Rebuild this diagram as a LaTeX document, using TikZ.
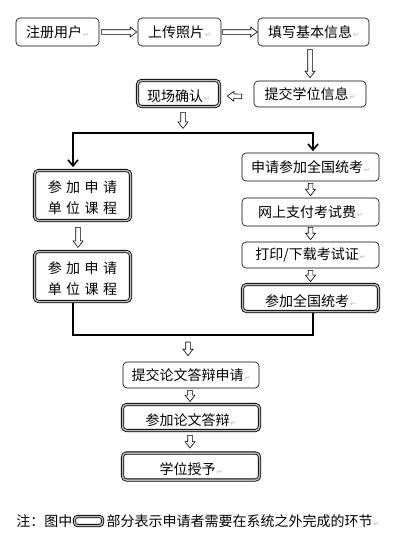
\documentclass[tikz,border=0pt]{standalone}
\usepackage{fontspec}
\setmainfont{Noto Sans CJK SC}
\newfontfamily\dvfont{DejaVu Sans}
\usetikzlibrary{calc,arrows.meta}
\newcommand\rmk{\kern1pt{\dvfont\fontsize{7}{7}\selectfont\textcolor{gray!60}{↵}}}
\newcommand\low[1]{\raisebox{-3pt}[\height][\depth]{#1}}
\newcommand\hollowarrow[2]{%
  \draw[hollow] let \p1=(#1), \p2=(#2),
    \n1={atan2(\y2-\y1,\x2-\x1)}, \n2={veclen(\x2-\x1,\y2-\y1)} in
    [shift={(\p1)},rotate=\n1]
    (0pt,-2.3pt) -- (\n2-6.5pt,-2.3pt) -- (\n2-6.5pt,-5pt) -- (\n2,0pt)
    -- (\n2-6.5pt,5pt) -- (\n2-6.5pt,2.3pt) -- (0pt,2.3pt) -- cycle;}
\begin{document}
\begin{tikzpicture}[x=1pt,y=-1pt,
  box/.style={draw, rounded corners=4pt, line width=0.6pt, inner sep=0pt,
    fill=white, font=\fontsize{14}{16}\selectfont},
  dbox/.style={box, line width=0.8pt, double=gray!55, double distance=1.5pt},
  hollow/.style={draw, line width=0.6pt, fill=white},
  brk/.style={line width=1.6pt},
  plain/.style={inner sep=0pt, font=\fontsize{14}{16}\selectfont}]
\fill[white] (0,0) rectangle (405,554);
\useasboundingbox (0,0) rectangle (405,554);

% top row
\node[box, minimum width=83pt, minimum height=28pt] (reg) at (57.5,32) {注册用户\rmk};
\node[box, minimum width=83pt, minimum height=28pt] (photo) at (179.5,32) {上传照片\rmk};
\node[box, minimum width=111pt, minimum height=28pt] (info) at (313.5,32) {填写基本信息\rmk};
\node[box, minimum width=112pt, minimum height=26pt] (degree) at (310,94) {提交学位信息\rmk};
\node[dbox, minimum width=82pt, minimum height=26pt] (confirm) at (178.5,93.5) {\low{现场确认\rmk}};

% left branch
\node[dbox, minimum width=96pt, minimum height=50pt] (course1) at (82.5,195.5)
  {\low{\fontsize{14}{21}\selectfont\begin{tabular}{@{}c@{}}参\hspace{4.5pt}加\hspace{4.5pt}申\hspace{4.5pt}请\\单\hspace{4.5pt}位\hspace{4.5pt}课\hspace{4.5pt}程\end{tabular}}};
\node[dbox, minimum width=96pt, minimum height=50pt] (course2) at (82.5,276.5)
  {\low{\fontsize{14}{21}\selectfont\begin{tabular}{@{}c@{}}参\hspace{4.5pt}加\hspace{4.5pt}申\hspace{4.5pt}请\\单\hspace{4.5pt}位\hspace{4.5pt}课\hspace{4.5pt}程\end{tabular}}};

% right branch
\node[box, minimum width=137pt, minimum height=28pt] (apply) at (310.5,167) {申请参加全国统考\rmk};
\node[box, minimum width=137pt, minimum height=28pt] (pay) at (310.5,212) {网上支付考试费\rmk};
\node[box, minimum width=137pt, minimum height=26pt] (print) at (310.5,255) {打印/下载考试证\rmk};
\node[dbox, minimum width=136pt, minimum height=27pt] (exam) at (310.5,298) {\low{参加全国统考\rmk}};

% bottom
\node[box, minimum width=136pt, minimum height=26pt] (thesis) at (191,375) {提交论文答辩申请\rmk};
\node[dbox, minimum width=137pt, minimum height=26pt] (defense) at (191,417.5) {\low{参加论文答辩\rmk}};
\node[dbox, minimum width=137pt, minimum height=27pt] (award) at (191,466.5) {\low{学位授予\rmk}};

% note
\node[dbox, rounded corners=3pt, minimum width=28pt, minimum height=9pt] (legend) at (88.5,521) {};
\node[plain, anchor=east] (note1) at ($(legend.west)+(-1.5,0.5)$) {注：图中};
\node[plain, anchor=west] (note2) at ($(legend.east)+(3.5,0.5)$) {部分表示申请者需要在系统之外完成的环节\rmk};

% hollow arrows
\hollowarrow{$(reg.east)+(2,0)$}{$(photo.west)+(-1,0)$}
\hollowarrow{$(photo.east)+(1,0)$}{$(info.west)+(-0.5,0)$}
\hollowarrow{$(degree.north |- info.south)+(0,3)$}{$(degree.north)+(0,-3)$}
\hollowarrow{$(degree.west)+(-12,2.5)$}{$(confirm.east)+(7.5,2.5)$}
\hollowarrow{$(confirm.south)+(4.5,5.5)$}{$(confirm.south)+(4.5,21.5)$}
\hollowarrow{$(course1.south)+(-4.5,6.5)$}{$(course1.south)+(-4.5,26.5)$}
\hollowarrow{$(apply.south)+(0,2)$}{$(pay.north)+(0,-2)$}
\hollowarrow{$(pay.south)+(0,1)$}{$(print.north)+(0,-2)$}
\hollowarrow{$(print.south)+(0,2)$}{$(exam.north)+(0,-2.5)$}
\hollowarrow{$(thesis.south)+(-1,2)$}{$(defense.north)+(-1,-2.5)$}
\hollowarrow{$(defense.south)+(-1,4.5)$}{$(award.north)+(-1,-4.5)$}

% bracket lines
\coordinate (bl) at (73,133);
\coordinate (br) at (313,133);
\coordinate (bbl) at (73,335);
\coordinate (bbr) at (313,335);
\coordinate (mg) at (188,335);
\draw[brk, {Straight Barb[length=6pt,width=10pt]}-{Straight Barb[length=6pt,width=10pt]}]
  ($(course1.north -| bl)+(0,-3)$) -- (bl) -- (br) -- ($(apply.north -| br)+(0,-1.5)$);
\draw[brk] ($(course2.south -| bbl)+(0,1.5)$) -- (bbl) -- (bbr) -- ($(exam.south -| bbr)+(0,1.5)$);
\hollowarrow{$(mg)+(0,7)$}{$(thesis.north)+(-3,-6)$}
\end{tikzpicture}
\end{document}
